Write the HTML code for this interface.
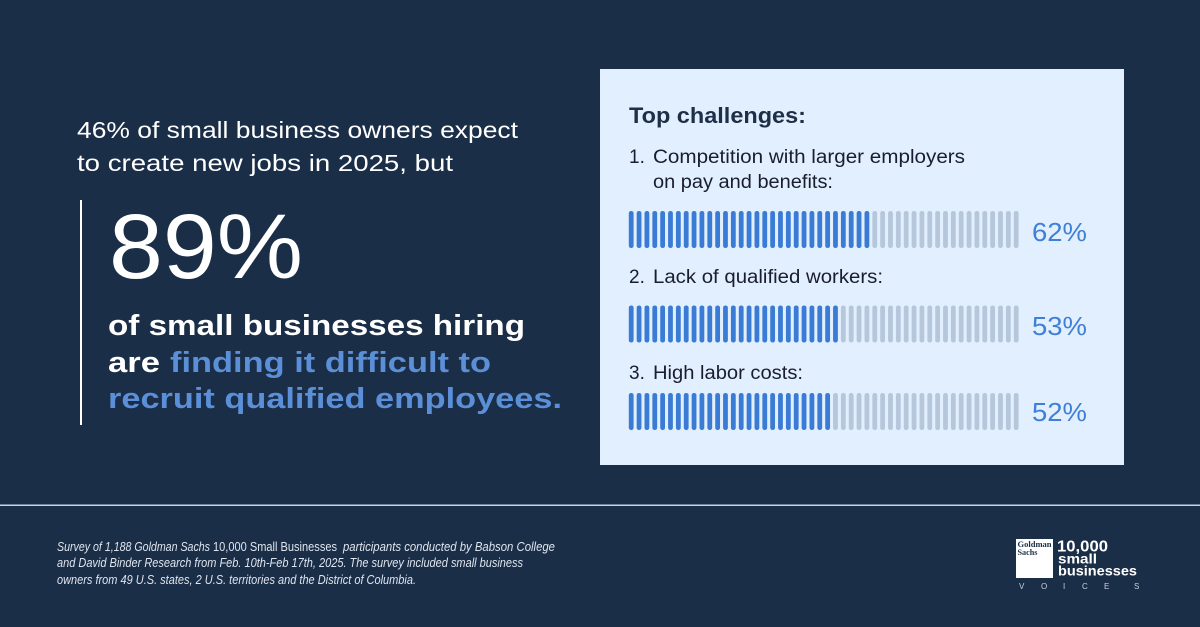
<!DOCTYPE html>
<html>
<head>
<meta charset="utf-8">
<style>
  html,body{margin:0;padding:0;background:#1b2e48;}
  svg{display:block;}
  text{font-family:"Liberation Sans", Arial, sans-serif;}
</style>
</head>
<body>
<svg width="1200" height="627" viewBox="0 0 1200 627" xmlns="http://www.w3.org/2000/svg">
  <rect x="0" y="0" width="1200" height="627" fill="#1b2e48"/>

  <!-- Left text -->
  <text x="77" y="138" font-size="23.5" fill="#ffffff" textLength="441" lengthAdjust="spacingAndGlyphs">46% of small business owners expect</text>
  <text x="77" y="171" font-size="23.5" fill="#ffffff" textLength="376" lengthAdjust="spacingAndGlyphs">to create new jobs in 2025, but</text>

  <rect x="80" y="200" width="2" height="225" fill="#ffffff"/>

  <text x="109" y="278" font-size="92" fill="#ffffff" textLength="194" lengthAdjust="spacingAndGlyphs">89%</text>

  <text x="108" y="335" font-size="28.5" font-weight="bold" fill="#ffffff" textLength="417" lengthAdjust="spacingAndGlyphs">of small businesses hiring</text>
  <text x="108" y="372" font-size="28.5" font-weight="bold" fill="#ffffff" textLength="52" lengthAdjust="spacingAndGlyphs">are</text>
  <text x="170" y="372" font-size="28.5" font-weight="bold" fill="#5b8fd8" textLength="321" lengthAdjust="spacingAndGlyphs">finding it difficult to</text>
  <text x="108" y="408" font-size="28.5" font-weight="bold" fill="#5b8fd8" textLength="454" lengthAdjust="spacingAndGlyphs">recruit qualified employees.</text>

  <!-- Right panel -->
  <rect x="600" y="69" width="524" height="396" fill="#e2efff"/>
  <text x="629" y="123" font-size="22" font-weight="bold" fill="#1e2f47" textLength="177" lengthAdjust="spacingAndGlyphs">Top challenges:</text>

  <text x="629" y="163" font-size="19" fill="#1a1d2b">1.</text>
  <text x="653" y="163" font-size="19" fill="#1a1d2b" textLength="312" lengthAdjust="spacingAndGlyphs">Competition with larger employers</text>
  <text x="653" y="188" font-size="19" fill="#1a1d2b" textLength="180" lengthAdjust="spacingAndGlyphs">on pay and benefits:</text>

  <text x="629" y="283" font-size="19" fill="#1a1d2b">2.</text>
  <text x="653" y="283" font-size="19" fill="#1a1d2b" textLength="230" lengthAdjust="spacingAndGlyphs">Lack of qualified workers:</text>

  <text x="629" y="379" font-size="19" fill="#1a1d2b">3.</text>
  <text x="653" y="379" font-size="19" fill="#1a1d2b" textLength="150" lengthAdjust="spacingAndGlyphs">High labor costs:</text>

  <g id="bars"></g>

  <text x="1032" y="241" font-size="26" fill="#3f7fd6" textLength="55" lengthAdjust="spacingAndGlyphs">62%</text>
  <text x="1032" y="335" font-size="26" fill="#3f7fd6" textLength="55" lengthAdjust="spacingAndGlyphs">53%</text>
  <text x="1032" y="421" font-size="26" fill="#3f7fd6" textLength="55" lengthAdjust="spacingAndGlyphs">52%</text>

  <!-- Divider -->
  <rect x="0" y="504.5" width="1200" height="1.5" fill="#c9d5e6"/>

  <!-- Footnote -->
  <text x="57" y="551" font-size="12.5" font-style="italic" fill="#dfe5ee" textLength="153" lengthAdjust="spacingAndGlyphs">Survey of 1,188 Goldman Sachs</text>
  <text x="213" y="551" font-size="12.5" fill="#dfe5ee" textLength="124" lengthAdjust="spacingAndGlyphs">10,000 Small Businesses</text>
  <text x="343" y="551" font-size="12.5" font-style="italic" fill="#dfe5ee" textLength="212" lengthAdjust="spacingAndGlyphs">participants conducted by Babson College</text>
  <text x="57" y="567" font-size="12.5" font-style="italic" fill="#dfe5ee" textLength="466" lengthAdjust="spacingAndGlyphs">and David Binder Research from Feb. 10th-Feb 17th, 2025. The survey included small business</text>
  <text x="57" y="584" font-size="12.5" font-style="italic" fill="#dfe5ee" textLength="359" lengthAdjust="spacingAndGlyphs">owners from 49 U.S. states, 2 U.S. territories and the District of Columbia.</text>

  <!-- Logo -->
  <rect x="1016" y="539" width="37" height="39" fill="#ffffff"/>
  <text x="1017.5" y="547" font-size="8.5" font-weight="bold" fill="#1b2e48" style="font-family:'Liberation Serif',serif" textLength="34" lengthAdjust="spacingAndGlyphs">Goldman</text>
  <text x="1017.5" y="555" font-size="8.5" font-weight="bold" fill="#1b2e48" style="font-family:'Liberation Serif',serif" textLength="20" lengthAdjust="spacingAndGlyphs">Sachs</text>
  <text x="1057" y="551.5" font-size="15.5" font-weight="bold" fill="#ffffff" textLength="51" lengthAdjust="spacingAndGlyphs">10,000</text>
  <text x="1058" y="563.5" font-size="13.5" font-weight="bold" fill="#ffffff" textLength="39" lengthAdjust="spacingAndGlyphs">small</text>
  <text x="1058" y="575.5" font-size="13.5" font-weight="bold" fill="#ffffff" textLength="79" lengthAdjust="spacingAndGlyphs">businesses</text>
  <g font-size="8" fill="#c8d0dc">
    <text x="1019" y="589">V</text>
    <text x="1041" y="589">O</text>
    <text x="1063" y="589">I</text>
    <text x="1082" y="589">C</text>
    <text x="1104" y="589">E</text>
    <text x="1134" y="589">S</text>
  </g>
</svg>
<script>
(function(){
  var g=document.getElementById('bars');
  var ns='http://www.w3.org/2000/svg';
  var rows=[{y:211,n:31},{y:305.5,n:27},{y:393,n:26}];
  var x0=628.8,p=7.857,w=4.8,h=37;
  rows.forEach(function(r){
    for(var i=0;i<50;i++){
      var rc=document.createElementNS(ns,'rect');
      rc.setAttribute('x',(x0+i*p).toFixed(2));
      rc.setAttribute('y',r.y);
      rc.setAttribute('width',w);
      rc.setAttribute('height',h);
      rc.setAttribute('rx',2.3);
      rc.setAttribute('fill',i<r.n?'#3a7bd5':'#b6c6db');
      g.appendChild(rc);
    }
  });
})();
</script>
</body>
</html>
